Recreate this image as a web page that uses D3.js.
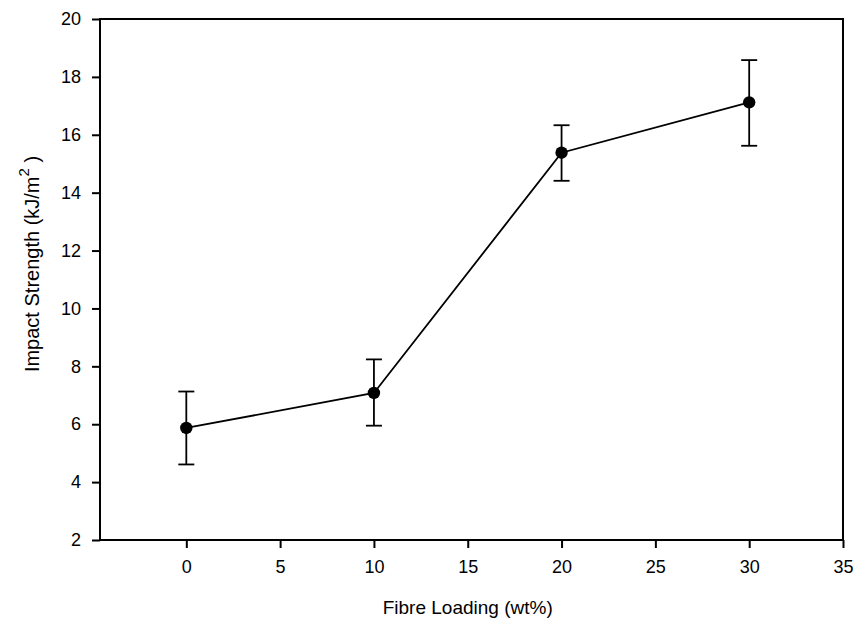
<!DOCTYPE html>
<html>
<head>
<meta charset="utf-8">
<script src="https://cdn.jsdelivr.net/npm/d3@7"></script>
<style>
    body { margin: 0; background: #fff; }
    text { font-family: "Liberation Sans", Arial, sans-serif; fill: #000; }
</style>
</head>
<body>
<svg id="chart" width="855" height="630"></svg>
<script>
// Data
const loading = [0, 10, 20, 30];
const strength = [5.87, 7.08, 15.38, 17.12];
const errUpper = [7.13, 8.24, 16.33, 18.58];
const errLower = [4.61, 5.95, 14.41, 15.62];
const xTicks = [0, 5, 10, 15, 20, 25, 30, 35];
const yTicks = [2, 4, 6, 8, 10, 12, 14, 16, 18, 20];

const svg = d3.select("#chart");
const margin = {left: 100, right: 12, top: 19, bottom: 90};
const width = 855 - margin.left - margin.right;
const height = 630 - margin.top - margin.bottom;

const g = svg.append("g")
    .attr("transform", "translate(" + margin.left + "," + margin.top + ")");

const x = d3.scaleLinear().domain([-4.6, 35]).range([0, width]);
const y = d3.scaleLinear().domain([2, 20]).range([height, 0]);

// frame
g.append("rect")
    .attr("width", width).attr("height", height)
    .attr("fill", "none").attr("stroke", "#000").attr("stroke-width", 2);

// Add X axis
const xAxis = g.append("g")
    .attr("transform", "translate(0," + height + ")")
    .call(d3.axisBottom(x).tickValues(xTicks).tickSize(8).tickPadding(12));
xAxis.select(".domain").remove();
xAxis.selectAll("line").attr("stroke-width", 2);
xAxis.selectAll("text").style("font-size", "18px");

// Add Y axis
const yAxis = g.append("g")
    .call(d3.axisLeft(y).tickValues(yTicks).tickSize(8).tickPadding(11));
yAxis.select(".domain").remove();
yAxis.selectAll("line").attr("stroke-width", 2);
yAxis.selectAll("text").style("font-size", "18px");

// error bars
const pts = loading.map((v, i) => ({x: v, y: strength[i], hi: errUpper[i], lo: errLower[i]}));
const capW = 8;
const eb = g.append("g").attr("stroke", "#000").attr("stroke-width", 1.8);
eb.selectAll(".v").data(pts).enter().append("line")
    .attr("x1", d => x(d.x)).attr("x2", d => x(d.x))
    .attr("y1", d => y(d.hi)).attr("y2", d => y(d.lo));
eb.selectAll(".t").data(pts).enter().append("line")
    .attr("x1", d => x(d.x) - capW).attr("x2", d => x(d.x) + capW)
    .attr("y1", d => y(d.hi)).attr("y2", d => y(d.hi));
eb.selectAll(".b").data(pts).enter().append("line")
    .attr("x1", d => x(d.x) - capW).attr("x2", d => x(d.x) + capW)
    .attr("y1", d => y(d.lo)).attr("y2", d => y(d.lo));

// line
g.append("path")
    .datum(pts)
    .attr("fill", "none").attr("stroke", "#000").attr("stroke-width", 1.8)
    .attr("d", d3.line().x(d => x(d.x)).y(d => y(d.y)));

// points
g.selectAll("circle").data(pts).enter().append("circle")
    .attr("cx", d => x(d.x)).attr("cy", d => y(d.y))
    .attr("r", 6.2).attr("fill", "#000");

// axis titles
svg.append("text")
    .attr("x", margin.left + x(15)).attr("y", 614)
    .attr("text-anchor", "middle").style("font-size", "19px")
    .text("Fibre Loading (wt%)");

const yt = svg.append("text")
    .attr("transform", "translate(39,264) rotate(-90)")
    .attr("text-anchor", "middle").style("font-size", "20px");
yt.append("tspan").text("Impact Strength (kJ/m");
yt.append("tspan").attr("dy", -10).style("font-size", "15px").text("2");
yt.append("tspan").attr("dy", 10).text(" )");
</script>
</body>
</html>
